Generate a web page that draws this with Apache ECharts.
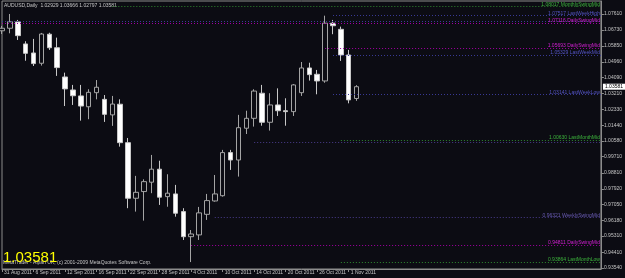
<!DOCTYPE html>
<html>
<head>
<meta charset="utf-8">
<script src="https://cdn.jsdelivr.net/npm/echarts@6/dist/echarts.min.js"></script>
<style>
html, body { margin: 0; padding: 0; background: #0c0c13; }
#chart { width: 625px; height: 278px; }
</style>
</head>
<body>
<div id="chart"></div>
<script>
var symbolName = 'AUDUSD,Daily';

var dates = ['31 Aug 2011', '1 Sep 2011', '2 Sep 2011', '5 Sep 2011', '6 Sep 2011', '7 Sep 2011', '8 Sep 2011', '9 Sep 2011',
	'12 Sep 2011', '13 Sep 2011', '14 Sep 2011', '15 Sep 2011', '16 Sep 2011', '19 Sep 2011', '20 Sep 2011', '21 Sep 2011',
	'22 Sep 2011', '23 Sep 2011', '26 Sep 2011', '27 Sep 2011', '28 Sep 2011', '29 Sep 2011', '30 Sep 2011', '3 Oct 2011',
	'4 Oct 2011', '5 Oct 2011', '6 Oct 2011', '7 Oct 2011', '10 Oct 2011', '11 Oct 2011', '12 Oct 2011', '13 Oct 2011',
	'14 Oct 2011', '17 Oct 2011', '18 Oct 2011', '19 Oct 2011', '20 Oct 2011', '21 Oct 2011', '24 Oct 2011', '25 Oct 2011',
	'26 Oct 2011', '27 Oct 2011', '28 Oct 2011', '31 Oct 2011', '1 Nov 2011', '2 Nov 2011']

var open = [1.0668, 1.0682, 1.0717, 1.0595, 1.0545, 1.0488, 1.0649, 1.0574, 1.0412, 1.0340, 1.0307, 1.0247, 1.0325, 1.0288,
	1.0202, 1.0261, 1.0048, 0.9740, 0.9777, 0.9829, 0.9901, 0.9749, 0.9764, 0.9666, 0.9527, 0.9537, 0.9651, 0.9725, 0.9754,
	0.9993, 0.9952, 1.0128, 1.0183, 1.0322, 1.0161, 1.0257, 1.0225, 1.0220, 1.0325, 1.0462, 1.0427, 1.0390, 1.0710, 1.0676,
	1.0534, 1.02929]
var close = [1.0682, 1.0718, 1.0641, 1.0543, 1.0486, 1.0650, 1.0574, 1.0464, 1.0346, 1.0308, 1.0251, 1.0327, 1.0355, 1.0205,
	1.0262, 1.0048, 0.9740, 0.9773, 0.9832, 0.9901, 0.9746, 0.9768, 0.9657, 0.9527, 0.9542, 0.9659, 0.9727, 0.9764, 0.9993,
	0.9952, 1.0131, 1.0183, 1.0334, 1.0161, 1.0257, 1.0225, 1.0220, 1.0368, 1.0462, 1.0425, 1.0390, 1.0710, 1.0696, 1.0534,
	1.0285, 1.03581]
var low = [1.0650, 1.0654, 1.0617, 1.0502, 1.0473, 1.0475, 1.0562, 1.0418, 1.0251, 1.0257, 1.0170, 1.0178, 1.0288, 1.0163,
	1.0141, 1.0026, 0.9685, 0.9666, 0.9616, 0.9768, 0.9703, 0.9693, 0.9638, 0.9509, 0.93864, 0.9509, 0.9620, 0.9721, 0.9749,
	0.9897, 0.9860, 1.0096, 1.0137, 1.0142, 1.0115, 1.0196, 1.0142, 1.0196, 1.0307, 1.0392, 1.0316, 1.0380, 1.0649, 1.0501,
	1.0266, 1.02797]
var high = [1.0695, 1.0761, 1.0728, 1.0610, 1.0623, 1.0656, 1.0657, 1.0630, 1.0436, 1.0368, 1.0368, 1.0344, 1.0395, 1.0312,
	1.0307, 1.0288, 1.0074, 0.9864, 0.9845, 0.9980, 0.9948, 0.9873, 0.9814, 0.9685, 0.9564, 0.9692, 0.9764, 0.9869, 1.0008,
	1.0008, 1.0202, 1.0225, 1.0344, 1.0368, 1.0322, 1.0349, 1.0294, 1.0373, 1.0495, 1.0491, 1.0451, 1.07517, 1.0728, 1.0691,
	1.0562, 1.03666]

// right price scale labels
var priceTicks = [0.93540, 0.94410, 0.95310, 0.96180, 0.97050, 0.97920, 0.98810, 0.99710, 1.00580, 1.01440, 1.02330,
	1.03210, 1.04090, 1.04960, 1.05850, 1.06730, 1.07610]

// indicator levels (value, name, first bar)
var levelValues = [1.08017, 1.07517, 1.0722, 1.07116, 1.05693, 1.05329, 1.03141, 1.00630, 1.0052, 0.96321, 0.94811, 0.93864]
var levelNames = ['MonthlySwingMid', 'LastWeekHigh', '', 'DailySwingMid', 'DailySwingMid', 'LastWeekMid', 'LastWeekLow',
	'LastMonthMid', '', 'WeeklySwingMid', 'DailySwingMid', 'LastMonthLow']
var levelFrom = [14, 42, 0, 0, 41, 42, 42, 43, 32, 27, 24, 43]
var levelKind = ['month', 'week', 'week', 'day', 'day', 'week', 'week', 'month', 'wswing', 'wswing', 'day', 'month']

var lineColors = { month: '#2f8a2f', week: '#3a3a96', day: '#a300a3', wswing: '#4a3c8c' }
var textColors = { month: '#3cb43c', week: '#5454c4', day: '#d020d0', wswing: '#6a5cb4' }

var bg = '#0c0c13'
var totalBars = 77
var cats = dates.slice()
while (cats.length < totalBars) cats.push('')

var candles = dates.map(function (d, i) {
	return [open[i], close[i], low[i], high[i]]
})

var last = dates.length - 1
var showLabel = function (i) {
	return i % 4 === 0 && i < dates.length
}

var lines = levelValues.map(function (v, i) {
	var kind = levelKind[i]
	return [{
		coord: [levelFrom[i], v],
		lineStyle: { color: lineColors[kind], type: [1, 2], width: 1 },
		label: {
			show: levelNames[i] !== '',
			position: 'insideEndTop',
			distance: [1, 0],
			formatter: v.toFixed(5) + ' ' + levelNames[i],
			color: textColors[kind],
			fontSize: 5,
			fontFamily: 'Liberation Sans'
		}
	}, {
		coord: [totalBars - 1, v]
	}]
})
// bid price box on the scale
lines.push([{
	coord: [last, close[last]],
	lineStyle: { color: 'rgba(0,0,0,0)', width: 1 },
	label: {
		show: true,
		position: 'end',
		distance: 2,
		formatter: close[last].toFixed(5),
		color: '#000000',
		backgroundColor: '#ffffff',
		padding: [1, 3, 0, 2],
		fontSize: 5,
		fontFamily: 'Liberation Sans'
	}
}, {
	coord: [totalBars - 1, close[last]]
}])

var chart = echarts.init(document.getElementById('chart'))
chart.setOption({
	backgroundColor: bg,
	animation: false,
	grid: {
		left: 2,
		right: 19,
		top: 1,
		bottom: 9,
		show: true,
		borderColor: '#8c8c8c',
		borderWidth: 1
	},
	xAxis: {
		type: 'category',
		data: cats,
		boundaryGap: false,
		axisLine: { lineStyle: { color: '#8c8c8c' } },
		axisTick: {
			interval: showLabel,
			length: 3,
			lineStyle: { color: '#8c8c8c' }
		},
		axisLabel: {
			interval: showLabel,
			align: 'left',
			margin: 1,
			padding: [0, 0, 0, 2],
			color: '#c4c4c4',
			fontSize: 5,
			fontFamily: 'Liberation Sans'
		},
		splitLine: { show: false }
	},
	yAxis: {
		type: 'value',
		position: 'right',
		min: 0.9348,
		max: 1.0833,
		axisLine: { show: true, lineStyle: { color: '#8c8c8c' } },
		axisTick: {
			show: true,
			length: 3,
			customValues: priceTicks,
			lineStyle: { color: '#8c8c8c' }
		},
		axisLabel: {
			customValues: priceTicks,
			margin: 3,
			color: '#c4c4c4',
			fontSize: 5,
			fontFamily: 'Liberation Sans',
			formatter: function (v) { return v.toFixed(5) }
		},
		splitLine: { show: false }
	},
	series: [{
		type: 'candlestick',
		data: candles,
		barWidth: 5,
		itemStyle: {
			color: bg,
			color0: '#ffffff',
			borderColor: '#a4a4a4',
			borderColor0: '#c8c8c8',
			borderWidth: 1
		},
		markLine: {
			silent: true,
			symbol: ['none', 'none'],
			animation: false,
			data: lines
		}
	}],
	graphic: [{
		type: 'text',
		left: 4,
		top: 3,
		style: {
			text: symbolName + '  ' + open[last].toFixed(5) + ' ' + high[last].toFixed(5) + ' ' +
				low[last].toFixed(5) + ' ' + close[last].toFixed(5),
			fill: '#c8c8c8',
			font: '5px "Liberation Sans"'
		}
	}, {
		type: 'text',
		left: 3,
		top: 260,
		style: {
			text: 'MetaTrader - Alpari UK, (c) 2001-2009 MetaQuotes Software Corp.',
			fill: '#c4c4c4',
			font: '5px "Liberation Sans"'
		}
	}, {
		type: 'text',
		left: 3,
		top: 250,
		style: {
			text: close[last].toFixed(5),
			fill: '#ffff00',
			font: '15px "Liberation Sans"'
		}
	}]
})
</script>
</body>
</html>
